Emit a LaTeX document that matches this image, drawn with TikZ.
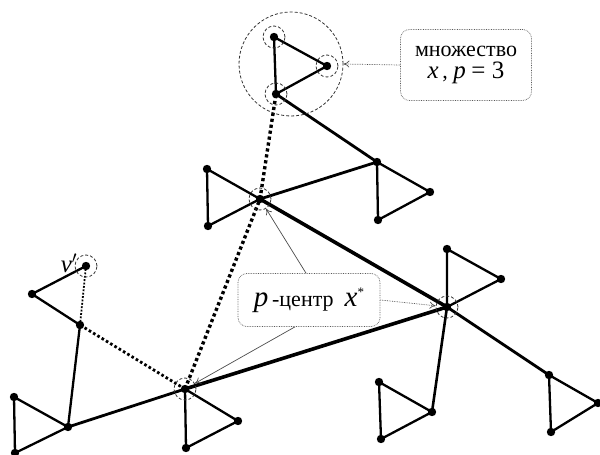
\documentclass[tikz,border=0pt]{standalone}
\usepackage{fontspec}
\setmainfont{Liberation Serif}
\usetikzlibrary{arrows.meta}
\begin{document}
\begin{tikzpicture}[x=1pt,y=-1pt,
  edge/.style={line width=2.3pt,line join=round},
  heavy/.style={line width=3.6pt},
  dots/.style={line width=3.4pt,dash pattern=on 3.2pt off 2.8pt},
  thindots/.style={line width=1.8pt,dash pattern=on 1.8pt off 1.6pt},
  ring/.style={circle,draw=black!80,line width=0.8pt,dash pattern=on 3pt off 2pt,minimum size=22pt,inner sep=0pt},
  note/.style={draw=black!65,line width=0.7pt,densely dotted,rounded corners=9pt,align=center,inner sep=0pt},
  callout/.style={draw=black!70,line width=0.7pt,-{To[length=6pt,width=7pt]}}]
  \useasboundingbox (0,0) rectangle (600,455);
  % vertices
  \coordinate (T1) at (274,37);
  \coordinate (T2) at (327,66);
  \coordinate (T3) at (276,94);
  \coordinate (A1) at (377,162);
  \coordinate (A2) at (378,220);
  \coordinate (A3) at (430,192);
  \coordinate (C1) at (260,199);
  \coordinate (B1) at (207,169);
  \coordinate (B2) at (208,226);
  \coordinate (C2) at (447,307);
  \coordinate (D1) at (447,249);
  \coordinate (D2) at (501,279);
  \coordinate (E1) at (549,375);
  \coordinate (E2) at (551,432);
  \coordinate (E3) at (598,403);
  \coordinate (F1) at (432,412);
  \coordinate (F2) at (379,382);
  \coordinate (F3) at (381,439);
  \coordinate (C3) at (185,389);
  \coordinate (G1) at (186,448);
  \coordinate (G2) at (238,421);
  \coordinate (H1) at (68,427);
  \coordinate (H2) at (14,397);
  \coordinate (H3) at (15,453);
  \coordinate (K1) at (80,325);
  \coordinate (K2) at (32,294);
  \coordinate (V) at (86,266);
  % tree edges
  \draw[edge] (T1) -- (T2) -- (T3) -- cycle;
  \draw[edge,line width=2.8pt] (T3) -- (A1);
  \draw[edge] (A1) -- (A2) -- (A3) -- cycle;
  \draw[edge,line width=2.8pt] (C1) -- (A1);
  \draw[edge] (C1) -- (B1) -- (B2) -- cycle;
  \draw[heavy] (C1) -- (C2);
  \draw[edge] (C2) -- (D1) -- (D2) -- cycle;
  \draw[edge,line width=2.8pt] (C2) -- (E1);
  \draw[edge] (E1) -- (E2) -- (E3) -- cycle;
  \draw[edge,line width=2.6pt] (C2) -- (F1);
  \draw[edge] (F1) -- (F2) -- (F3) -- cycle;
  \draw[heavy] (C3) -- (C2);
  \draw[edge] (C3) -- (G1) -- (G2) -- cycle;
  \draw[edge,line width=2.8pt] (C3) -- (H1);
  \draw[edge] (H1) -- (H2) -- (H3) -- cycle;
  \draw[edge] (H1) -- (K1) -- (K2) -- (V);
  % distances
  \draw[dots] (C1) -- (T3);
  \draw[dots] (C3) -- (C1);
  \draw[dots,line width=2.8pt,dash pattern=on 2.6pt off 2.4pt] (C3) -- (K1);
  \draw[thindots] (K1) -- (V);
  \foreach \v in {T1,T2,T3,A1,A2,A3,C1,B1,B2,C2,D1,D2,E1,E2,E3,F1,F2,F3,C3,G1,G2,H1,H2,H3,K1,K2,V}
    \fill (\v) circle (4.2pt);
  % rings
  \node[ring,minimum size=104pt] (grp) at (291,64) {};
  \foreach \v in {T1,T2,T3,C1,C2,C3,V}
    \node[ring] (r\v) at (\v) {};
  \node[font=\fontsize{25}{26}\selectfont\itshape] (vlab) at (69,263) {v$'$};
  % notes
  \node[note,minimum width=131pt,minimum height=71pt,font=\fontsize{22}{23}\selectfont] (set) at (466,65)
    {множество\\[-1pt]{\fontsize{25}{25}\selectfont\itshape x}\,, {\fontsize{25}{25}\selectfont\itshape p} {\fontsize{25}{25}\selectfont= 3}};
  \node[note,minimum width=142pt,minimum height=53pt,font=\fontsize{22}{23}\selectfont] (pc) at (309,300)
    {{\fontsize{29}{29}\selectfont\itshape p}\,-центр\ \ {\fontsize{29}{29}\selectfont\itshape x}\raisebox{10pt}{\fontsize{13}{13}\selectfont *}};
  \draw[callout,densely dotted] (set.west) -- (grp.east);
  \draw[callout] ([xshift=-3pt]pc.north) -- (rC1);
  \draw[callout,densely dotted] (pc.east) -- (rC2);
  \draw[callout] ([xshift=-14pt]pc.south) -- (rC3);
\end{tikzpicture}
\end{document}
